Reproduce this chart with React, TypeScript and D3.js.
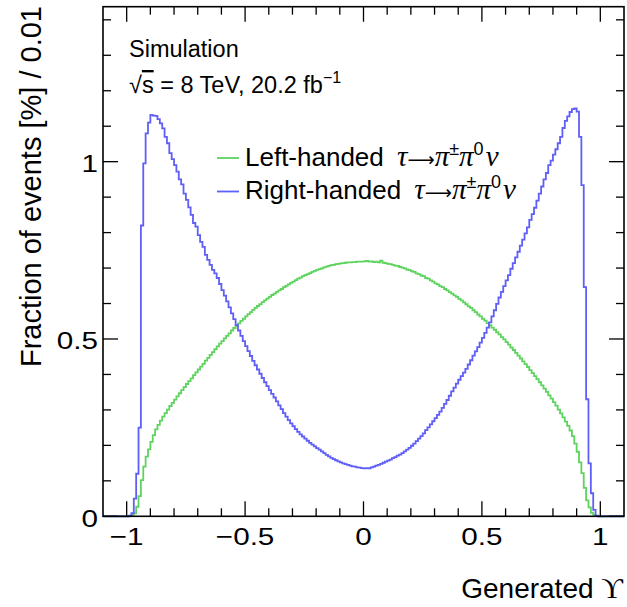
import React from 'react';
import * as d3 from 'd3';

// Histogram: 200 bins of width 0.01 on [-1, 1]; values = fraction of events [%]
const binLow = -1;
const binHigh = 1;
const nBins = 200;

const leftHanded: number[] = [
  0, 0.001, 0.003, 0.008, 0.027, 0.057, 0.102, 0.14, 0.168, 0.189,
  0.21, 0.229, 0.245, 0.258, 0.27, 0.281, 0.291, 0.301, 0.311, 0.32,
  0.329, 0.338, 0.347, 0.356, 0.364, 0.373, 0.381, 0.389, 0.398, 0.406,
  0.414, 0.422, 0.43, 0.439, 0.447, 0.455, 0.463, 0.471, 0.479, 0.487,
  0.494, 0.502, 0.509, 0.516, 0.524, 0.531, 0.537, 0.544, 0.551, 0.557,
  0.564, 0.57, 0.576, 0.582, 0.588, 0.593, 0.598, 0.604, 0.609, 0.614,
  0.619, 0.624, 0.628, 0.633, 0.637, 0.641, 0.646, 0.65, 0.654, 0.658,
  0.662, 0.666, 0.67, 0.673, 0.677, 0.68, 0.683, 0.686, 0.689, 0.692,
  0.695, 0.697, 0.699, 0.702, 0.704, 0.706, 0.708, 0.709, 0.711, 0.712,
  0.713, 0.714, 0.715, 0.716, 0.716, 0.717, 0.717, 0.718, 0.718, 0.718,
  0.719, 0.72, 0.718, 0.719, 0.717, 0.718, 0.716, 0.721, 0.715, 0.714,
  0.712, 0.711, 0.709, 0.707, 0.706, 0.703, 0.701, 0.699, 0.696, 0.694,
  0.691, 0.689, 0.685, 0.683, 0.679, 0.677, 0.672, 0.67, 0.665, 0.662,
  0.657, 0.654, 0.649, 0.646, 0.641, 0.637, 0.632, 0.628, 0.623, 0.619,
  0.613, 0.609, 0.603, 0.598, 0.592, 0.588, 0.581, 0.576, 0.569, 0.564,
  0.557, 0.552, 0.545, 0.539, 0.532, 0.526, 0.519, 0.513, 0.505, 0.499,
  0.491, 0.484, 0.476, 0.469, 0.461, 0.453, 0.445, 0.437, 0.429, 0.421,
  0.412, 0.404, 0.395, 0.387, 0.378, 0.369, 0.36, 0.351, 0.341, 0.332,
  0.322, 0.312, 0.301, 0.29, 0.279, 0.267, 0.255, 0.242, 0.226, 0.205,
  0.182, 0.152, 0.122, 0.08, 0.045, 0.025, 0.01, 0.004, 0.001, 0,
];

const rightHanded: number[] = [
  0, 0.002, 0.009, 0.05, 0.12, 0.25, 0.82, 0.995, 1.08, 1.11,
  1.132, 1.13, 1.129, 1.12, 1.108, 1.094, 1.07, 1.052, 1.024, 1.007,
  0.99, 0.972, 0.95, 0.936, 0.91, 0.892, 0.871, 0.85, 0.827, 0.817,
  0.793, 0.774, 0.76, 0.737, 0.723, 0.709, 0.695, 0.685, 0.672, 0.655,
  0.638, 0.622, 0.606, 0.589, 0.572, 0.556, 0.539, 0.524, 0.509, 0.494,
  0.48, 0.466, 0.452, 0.438, 0.426, 0.414, 0.402, 0.39, 0.378, 0.367,
  0.356, 0.345, 0.335, 0.324, 0.313, 0.302, 0.291, 0.281, 0.271, 0.262,
  0.254, 0.246, 0.238, 0.231, 0.225, 0.219, 0.213, 0.207, 0.202, 0.197,
  0.192, 0.188, 0.183, 0.178, 0.173, 0.169, 0.165, 0.161, 0.158, 0.155,
  0.152, 0.149, 0.147, 0.145, 0.143, 0.141, 0.14, 0.138, 0.137, 0.136,
  0.135, 0.136, 0.135, 0.138, 0.14, 0.143, 0.145, 0.148, 0.151, 0.154,
  0.157, 0.16, 0.164, 0.167, 0.171, 0.174, 0.178, 0.183, 0.188, 0.193,
  0.199, 0.205, 0.212, 0.219, 0.226, 0.234, 0.243, 0.251, 0.259, 0.268,
  0.277, 0.286, 0.295, 0.306, 0.317, 0.328, 0.34, 0.352, 0.363, 0.374,
  0.385, 0.395, 0.405, 0.416, 0.428, 0.44, 0.453, 0.465, 0.477, 0.49,
  0.503, 0.517, 0.532, 0.547, 0.564, 0.581, 0.599, 0.617, 0.633, 0.649,
  0.665, 0.68, 0.698, 0.714, 0.73, 0.746, 0.763, 0.78, 0.798, 0.815,
  0.836, 0.852, 0.87, 0.89, 0.91, 0.93, 0.95, 0.968, 0.99, 1.003,
  1.02, 1.035, 1.052, 1.07, 1.095, 1.115, 1.128, 1.14, 1.148, 1.15,
  1.141, 1.07, 0.934, 0.646, 0.33, 0.149, 0.065, 0.018, 0.002, 0,
];

const xDomain = [-1.1, 1.1];
const yDomain = [0, 1.437];
const xMajorTicks = [-1, -0.5, 0, 0.5, 1];
const xTickLabels = ['\u22121', '\u22120.5', '0', '0.5', '1'];
const yMajorTicks = [0, 0.5, 1];
const yTickLabels = ['0', '0.5', '1'];

const GREEN = '#5fd35f';
const BLUE = '#5f5ff7';
const SANS = '"Liberation Sans", Arial, Helvetica, sans-serif';
const SERIF = '"Liberation Serif", "DejaVu Serif", serif';

export default function App() {
  const W = 627;
  const H = 607;
  const left = 103, right = 624, top = 6.7, bottom = 516.3;
  const x = d3.scaleLinear().domain(xDomain).range([left, right]);
  const y = d3.scaleLinear().domain(yDomain).range([bottom, top]);

  const edges = d3.range(nBins + 1).map((i) => binLow + (i * (binHigh - binLow)) / nBins);
  const stepPath = (vals: number[]) => {
    const pts: [number, number][] = [
      [xDomain[0], 0],
      ...vals.map((v, i) => [edges[i], v] as [number, number]),
      [binHigh, 0],
      [xDomain[1], 0],
    ];
    return d3
      .line<[number, number]>()
      .x((d) => x(d[0]))
      .y((d) => y(d[1]))
      .curve(d3.curveStepAfter)(pts) as string;
  };

  const xMinor = d3.range(-10, 11).map((i) => i / 10).filter((v) => !xMajorTicks.some((m) => Math.abs(m - v) < 1e-9));
  const yMinor = d3.range(0, 15).map((i) => i / 10).filter((v) => !yMajorTicks.some((m) => Math.abs(m - v) < 1e-9));
  const MAJ = 15, MIN = 8;

  const tickLines: JSX.Element[] = [];
  xMajorTicks.forEach((v, i) => {
    tickLines.push(<line key={'xb' + i} x1={x(v)} x2={x(v)} y1={bottom} y2={bottom - MAJ} />);
    tickLines.push(<line key={'xt' + i} x1={x(v)} x2={x(v)} y1={top} y2={top + MAJ} />);
  });
  xMinor.forEach((v, i) => {
    tickLines.push(<line key={'xbm' + i} x1={x(v)} x2={x(v)} y1={bottom} y2={bottom - MIN} />);
    tickLines.push(<line key={'xtm' + i} x1={x(v)} x2={x(v)} y1={top} y2={top + MIN} />);
  });
  yMajorTicks.forEach((v, i) => {
    tickLines.push(<line key={'yl' + i} x1={left} x2={left + MAJ} y1={y(v)} y2={y(v)} />);
    tickLines.push(<line key={'yr' + i} x1={right} x2={right - MAJ} y1={y(v)} y2={y(v)} />);
  });
  yMinor.forEach((v, i) => {
    tickLines.push(<line key={'ylm' + i} x1={left} x2={left + MIN} y1={y(v)} y2={y(v)} />);
    tickLines.push(<line key={'yrm' + i} x1={right} x2={right - MIN} y1={y(v)} y2={y(v)} />);
  });

  const G = 29; // greek glyph size in legend
  const decay = (
    <>
      <tspan fontFamily={SERIF} fontStyle="italic" fontSize={G} dx={6}>{'\u03C4'}</tspan>
      <tspan fontFamily={'"DejaVu Sans", sans-serif'} fontSize={19} dx={0}>{'\u27F6'}</tspan>
      <tspan fontFamily={SERIF} fontStyle="italic" fontSize={G}>{'\u03C0'}</tspan>
      <tspan fontSize={18} dy={-11}>{'\u00B1'}</tspan>
      <tspan fontFamily={SERIF} fontStyle="italic" fontSize={G} dy={11}>{'\u03C0'}</tspan>
      <tspan fontSize={18} dy={-11}>0</tspan>
      <tspan fontFamily={SERIF} fontStyle="italic" fontSize={G} dy={11} dx={2}>{'\u03BD'}</tspan>
    </>
  );

  const legendItems = [
    { label: 'Left-handed ', color: GREEN, yy: 158 },
    { label: 'Right-handed ', color: BLUE, yy: 191.5 },
  ];

  const TICK_FS = 24.7;
  const TICK_SX = 1.2;

  return (
    <svg width={W} height={H} style={{ position: 'absolute', left: 0, top: 0, background: '#fff' }}>
      <rect x={0} y={0} width={W} height={H} fill="#fff" />
      <g fill="none" strokeWidth={1.8} strokeLinejoin="miter">
        <path d={stepPath(leftHanded)} stroke={GREEN} />
        <path d={stepPath(rightHanded)} stroke={BLUE} />
      </g>
      <g stroke="#000" strokeWidth={1.3}>{tickLines}</g>
      <rect x={left} y={top} width={right - left} height={bottom - top} fill="none" stroke="#000" strokeWidth={1.6} />

      <g fontFamily={SANS} fontSize={TICK_FS} fill="#000">
        {xMajorTicks.map((v, i) => (
          <text key={'xl' + i} transform={`translate(${x(v)},545) scale(${TICK_SX},1)`} textAnchor="middle">
            {xTickLabels[i]}
          </text>
        ))}
        {yMajorTicks.map((v, i) => (
          <text key={'yl' + i} transform={`translate(98,${y(v) + 10.5}) scale(${TICK_SX},1)`} textAnchor="end">
            {yTickLabels[i]}
          </text>
        ))}
      </g>

      <text x={623} y={598} textAnchor="end" fontFamily={SANS} fontSize={28}>
        Generated <tspan fontFamily={SERIF} fontSize={30}>{'\u03D2'}</tspan>
      </text>
      <text transform="translate(41,6) rotate(-90)" textAnchor="end" fontFamily={SANS} fontSize={29}>
        Fraction of events [%] / 0.01
      </text>

      <text x={129} y={57} fontFamily={SANS} fontSize={23.5}>Simulation</text>
      <text x={129} y={93} fontFamily={SANS} fontSize={23.5}>
        {'\u221A'}<tspan style={{ textDecoration: 'overline' }}>s</tspan> = 8 TeV, 20.2 fb
        <tspan fontSize={16} dy={-10}>{'\u22121'}</tspan>
      </text>

      {legendItems.map((it, i) => (
        <g key={'lg' + i}>
          <line x1={217} x2={239} y1={it.yy} y2={it.yy} stroke={it.color} strokeWidth={1.8} />
          <text x={245} y={it.yy + 7.5} fontFamily={SANS} fontSize={26}>
            {it.label}
            {decay}
          </text>
        </g>
      ))}
    </svg>
  );
}
